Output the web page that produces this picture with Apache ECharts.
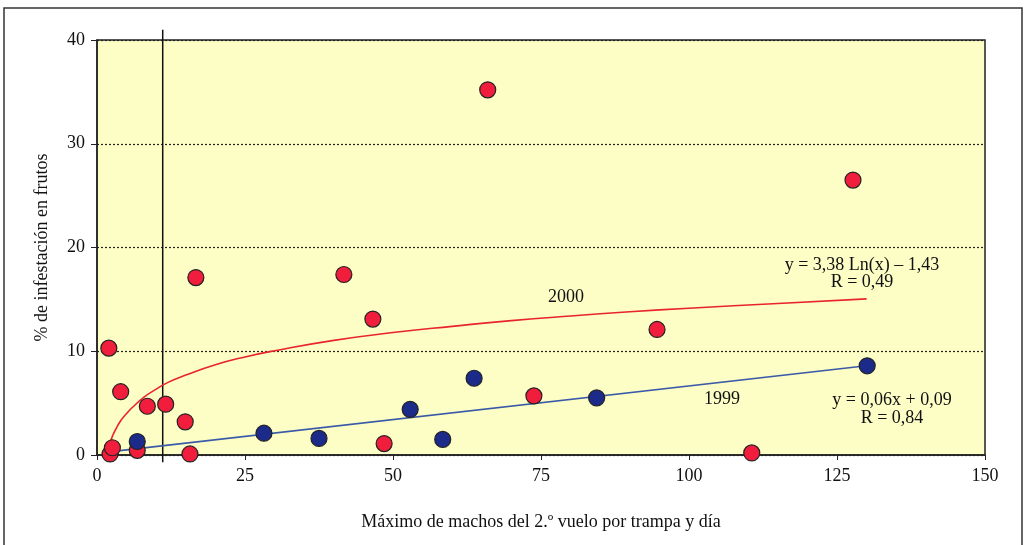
<!DOCTYPE html>
<html>
<head>
<meta charset="utf-8">
<script src="https://cdn.jsdelivr.net/npm/echarts@6/dist/echarts.min.js"></script>
<style>
  html, body { margin: 0; padding: 0; background: #fff; }
  #main { width: 1024px; height: 545px; }
</style>
</head>
<body>
<div id="main"></div>
<script>
// puntos 2000 (rojo) y 1999 (azul): [machos, % infestacion]
var data2000 = [
  [2.0, 10.3], [4.0, 6.1], [8.5, 4.7], [11.6, 4.9], [14.9, 3.2], [15.7, 0.1],
  [16.7, 17.1], [2.2, 0.1], [2.6, 0.7], [6.8, 0.45], [41.7, 17.4], [46.6, 13.1],
  [48.5, 1.1], [66.0, 35.2], [73.8, 5.7], [94.6, 12.1], [110.6, 0.2], [127.7, 26.5]
];
var data1999 = [
  [6.8, 1.3], [28.2, 2.1], [37.5, 1.6], [52.9, 4.4], [58.4, 1.5],
  [63.7, 7.4], [84.4, 5.5], [130.1, 8.6]
];
// curvas de tendencia
var trend2000 = [
  [1.8, 0.5], [2.2, 1.2], [2.6, 1.8], [3, 2.3], [4, 3.3], [5, 4.0], [6, 4.6],
  [8, 5.6], [10, 6.35], [12, 7.0], [15, 7.7], [20, 8.7], [25, 9.45], [30, 10.05],
  [40, 11.05], [50, 11.8], [60, 12.4], [70, 12.95], [80, 13.4], [90, 13.8],
  [100, 14.15], [115, 14.6], [130, 15.05]
];
var trend1999 = [[2.0, 0.3], [130, 8.6]];
var refLine = [[11.1, -0.7], [11.1, 41]];

var font = 'Liberation Serif';
var txt = '18px "Liberation Serif"';
var chart = echarts.init(document.getElementById('main'));

function label(text, x, y) {
  return {
    type: 'text', x: x, y: y, silent: true,
    style: { text: text, font: txt, fill: '#111', align: 'center', verticalAlign: 'middle' }
  };
}

var option = {
  backgroundColor: '#fff',
  animation: false,
  textStyle: { fontFamily: font },
  grid: {
    left: 97, right: 39, top: 40, bottom: 90,
    show: true,
    backgroundColor: '#fdfdc6',
    borderColor: '#222',
    borderWidth: 1.5
  },
  xAxis: {
    type: 'value',
    min: 0, max: 150, interval: 25,
    name: 'Máximo de machos del 2.º vuelo por trampa y día',
    nameLocation: 'middle',
    nameGap: 58,
    nameTextStyle: { fontFamily: font, fontSize: 18, color: '#111' },
    axisLine: { onZero: false, lineStyle: { color: '#222', width: 1.5 } },
    axisTick: { show: true, length: 5, inside: false, lineStyle: { color: '#222' } },
    axisLabel: { fontFamily: font, fontSize: 18, color: '#111', margin: 12 },
    splitLine: { show: false }
  },
  yAxis: {
    type: 'value',
    min: 0, max: 40, interval: 10,
    name: '% de infestación en frutos',
    nameLocation: 'middle',
    nameGap: 46,
    nameTextStyle: { fontFamily: font, fontSize: 18, color: '#111' },
    axisLine: { show: true, lineStyle: { color: '#222', width: 1.5 } },
    axisTick: { show: true, length: 6, lineStyle: { color: '#222' } },
    axisLabel: { fontFamily: font, fontSize: 18, color: '#111', margin: 12 },
    splitLine: { show: true, lineStyle: { color: '#222', type: [2, 2], width: 1.2 } }
  },
  graphic: [
    { type: 'rect', shape: { x: 4, y: 8, width: 1018, height: 560 },
      style: { fill: 'none', stroke: '#333', lineWidth: 1.5 }, silent: true },
    label('2000', 566, 297),
    label('1999', 722, 399),
    label('y = 3,38 Ln(x) – 1,43', 862, 265),
    label('R = 0,49', 862, 282),
    label('y = 0,06x + 0,09', 892, 400),
    label('R = 0,84', 892, 418)
  ],
  series: [
    {
      name: 'ref', type: 'line', data: refLine, clip: false, symbol: 'none',
      lineStyle: { color: '#111', width: 1.5 }, z: 1
    },
    {
      name: 'tend2000', type: 'line', data: trend2000, smooth: true,
      symbol: 'none', lineStyle: { color: '#e8242c', width: 1.6 }, z: 2
    },
    {
      name: 'tend1999', type: 'line', data: trend1999, symbol: 'none',
      lineStyle: { color: '#3a5aa8', width: 1.6 }, z: 2
    },
    {
      name: '2000', type: 'scatter', data: data2000, symbolSize: 16, clip: false,
      itemStyle: { color: '#f01e3c', borderColor: '#222', borderWidth: 1.2, opacity: 1 }, z: 3
    },
    {
      name: '1999', type: 'scatter', data: data1999, symbolSize: 16, clip: false,
      itemStyle: { color: '#1c2a8a', borderColor: '#222', borderWidth: 1.2, opacity: 1 }, z: 4
    }
  ]
};

chart.setOption(option);
</script>
</body>
</html>
